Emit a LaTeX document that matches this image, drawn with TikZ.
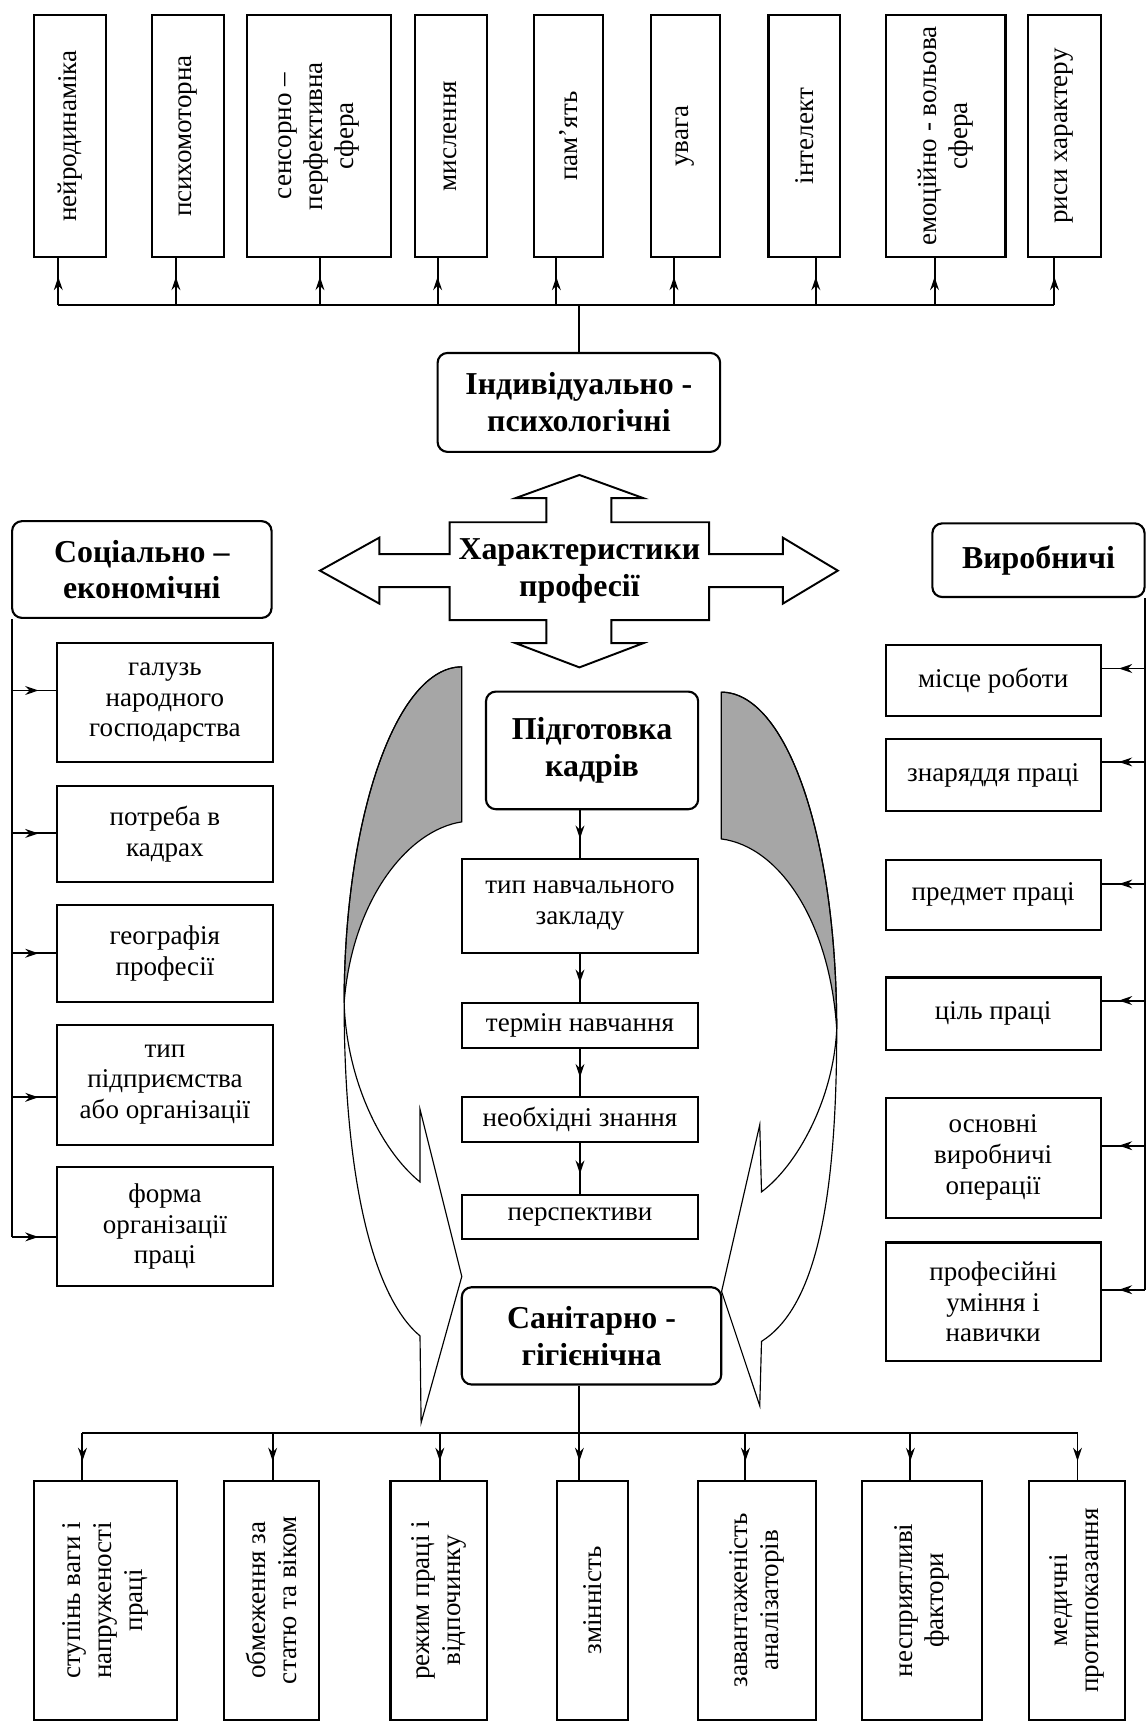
\documentclass[tikz,border=0pt]{standalone}
\usepackage{fontspec}
\setmainfont{Liberation Serif}
\usetikzlibrary{arrows.meta, decorations.markings}
\newcommand{\boxfont}{\fontsize{14}{16}\selectfont}
\newcommand{\headfont}{\fontsize{16.5}{19}\selectfont\bfseries}

\begin{document}
\begin{tikzpicture}[x=0.2mm, y=-0.2mm,
    itembox/.style={draw, line width=1.1pt, align=center, font=\boxfont, inner sep=2pt},
    vbox/.style={itembox, rotate=90},
    headbox/.style={itembox, rounded corners=1.8mm, font=\headfont},
    wire/.style={line width=1pt},
    feed/.style={wire, postaction={decorate, decoration={markings,
        mark=at position 0.6 with {\arrow{Stealth[length=2.4mm, width=1.6mm]}}}}},
    band/.style={line width=0.6pt}]
    \useasboundingbox (0,0) rectangle (1043,1568);

    % Curved ribbon arrows
    \filldraw[band, fill=black!35] (420,606.5) -- (420,747.5) .. controls (370,755) and (320,820) .. (313,912)
        .. controls (313,745) and (360,606.5) .. (420,606.5) -- cycle;
    \draw[band] (420,606.5) .. controls (360,606.5) and (313,745) .. (313,912)
        .. controls (313,1075) and (340,1180) .. (382,1215) -- (383,1294) -- (420,1161) -- (382,1009) -- (382,1075)
        .. controls (345,1045) and (315,980) .. (313,912);
    \filldraw[band, fill=black!35] (656,629.5) -- (656,763) .. controls (710,770) and (755,840) .. (761,936)
        .. controls (761,760) and (715,629.5) .. (656,629.5) -- cycle;
    \draw[band] (656,629.5) .. controls (715,629.5) and (761,760) .. (761,936)
        .. controls (761,1100) and (740,1190) .. (692.6,1220) -- (691,1278.6) -- (656.3,1174.6) -- (691,1023) -- (692.6,1084)
        .. controls (725,1060) and (758,1000) .. (761,936);

    % Four-way arrow
    \draw[line width=1pt] (409,475) -- (497,475) -- (497,453) -- (469,453) -- (527,432) -- (585,453) -- (556,453) -- (556,475)
        -- (645,475) -- (645,504) -- (712,504) -- (712,489) -- (762,519) -- (712,549) -- (712,534) -- (645,534)
        -- (645,564) -- (556,564) -- (556,585) -- (585,585) -- (527,607) -- (469,585) -- (497,585) -- (497,564)
        -- (409,564) -- (409,534) -- (345,534) -- (345,549) -- (291,519) -- (345,489) -- (345,504) -- (409,504) -- cycle;
    \node[font=\headfont, align=center] (prof) at (527,519) {Характеристики\\професії};

    % Individual-psychological
    \node[headbox, minimum width=51.4mm, minimum height=18mm] (ind) at (526.5,366) {Індивідуально -\\психологічні};
    \node[vbox, minimum width=44.1mm, minimum height=13.2mm] (t1) at (63.7,123.8) {нейродинаміка};
    \node[vbox, minimum width=44.1mm, minimum height=13.2mm] (t2) at (171,123.8) {психомоторна};
    \node[vbox, minimum width=44.1mm, minimum height=26.2mm] (t3) at (290.5,123.8) {сенсорно –\\перфективна\\сфера};
    \node[vbox, minimum width=44.1mm, minimum height=13.1mm] (t4) at (409.9,123.8) {мислення};
    \node[vbox, minimum width=44.1mm, minimum height=12.6mm] (t5) at (517,123.8) {пам'ять};
    \node[vbox, minimum width=44.1mm, minimum height=12.6mm] (t6) at (623.5,123.8) {увага};
    \node[vbox, minimum width=44.1mm, minimum height=13mm] (t7) at (731.5,123.8) {інтелект};
    \node[vbox, minimum width=44.1mm, minimum height=21.8mm] (t8) at (860,123.8) {емоційно - вольова\\сфера};
    \node[vbox, minimum width=44.1mm, minimum height=13.2mm] (t9) at (968,123.8) {риси характеру};
    \foreach \i/\x in {1/53,2/160,3/291,4/398,5/506,6/613,7/742,8/850,9/959}
        \coordinate (u\i) at (\x,277);
    \draw[wire] (u1) -- (u9);
    \draw[wire] (ind.north) -- (ind.north |- u1);
    \foreach \i in {1,...,9}
        \draw[feed] (u\i) -- (u\i |- t\i.west);

    % Socio-economic
    \node[headbox, minimum width=47.2mm, minimum height=17.6mm] (soc) at (129,518) {Соціально –\\економічні};
    \node[itembox, minimum width=39.2mm, minimum height=21.6mm] (l1) at (150,639) {галузь\\народного\\господарства};
    \node[itembox, minimum width=39.2mm, minimum height=17.4mm] (l2) at (150,758.5) {потреба в\\кадрах};
    \node[itembox, minimum width=39.2mm, minimum height=17.6mm] (l3) at (150,867) {географія\\професії};
    \node[itembox, minimum width=39.2mm, minimum height=21.8mm] (l4) at (150,986.5) {тип\\підприємства\\або організації};
    \node[itembox, minimum width=39.2mm, minimum height=21.8mm] (l5) at (150,1115.5) {форма\\організації\\праці};
    \foreach \i/\y in {1/628,2/758,3/867,4/998,5/1125}
        \coordinate (lb\i) at (11,\y);
    \draw[wire] (soc.south -| lb1) -- (lb5);
    \foreach \i in {1,...,5}
        \draw[feed] (lb\i) -- (lb\i -| l\i.west);

    % Production
    \node[headbox, minimum width=38.6mm, minimum height=13.4mm] (pro) at (944.5,509.5) {Виробничі};
    \node[itembox, minimum width=39.1mm, minimum height=13mm] (r1) at (903.3,619) {місце роботи};
    \node[itembox, minimum width=39.1mm, minimum height=13.1mm] (r2) at (903.3,705) {знаряддя праці};
    \node[itembox, minimum width=39.1mm, minimum height=12.8mm] (r3) at (903.3,813.8) {предмет праці};
    \node[itembox, minimum width=39.1mm, minimum height=13.2mm] (r4) at (903.3,922) {ціль праці};
    \node[itembox, minimum width=39.1mm, minimum height=21.8mm] (r5) at (903.3,1053) {основні\\виробничі\\операції};
    \node[itembox, minimum width=39.1mm, minimum height=21.6mm] (r6) at (903.3,1184) {професійні\\уміння і\\навички};
    \foreach \i/\y in {1/608,2/693,3/804,4/910,5/1042,6/1173}
        \coordinate (rb\i) at (1041,\y);
    \draw[wire] (pro.south -| rb1) -- (rb6);
    \foreach \i in {1,...,6}
        \draw[feed] (rb\i) -- (rb\i -| r\i.east);

    % Training
    \node[headbox, minimum width=38.6mm, minimum height=21.4mm] (prep) at (538.5,682.5) {Підготовка\\кадрів};
    \node[itembox, minimum width=43mm, minimum height=17.2mm] (c1) at (527.5,824) {тип навчального\\закладу};
    \node[itembox, minimum width=43mm, minimum height=8.2mm] (c2) at (527.5,932.5) {термін навчання};
    \node[itembox, minimum width=43mm, minimum height=8.2mm] (c3) at (527.5,1018.5) {необхідні знання};
    \node[itembox, minimum width=43mm, minimum height=8mm] (c4) at (527.5,1107) {перспективи};
    \draw[feed] (c1 |- prep.south) -- (c1);
    \draw[feed] (c1) -- (c2);
    \draw[feed] (c2) -- (c3);
    \draw[feed] (c3) -- (c4);

    % Sanitary-hygienic
    \node[headbox, minimum width=47.2mm, minimum height=17.7mm] (san) at (538,1215) {Санітарно -\\гігієнічна};
    \node[vbox, minimum width=43.4mm, minimum height=25.9mm] (b1) at (96,1455.5) {ступінь ваги і\\напруженості\\праці};
    \node[vbox, minimum width=43.4mm, minimum height=17.4mm] (b2) at (247,1455.5) {обмеження за\\статю та віком};
    \node[vbox, minimum width=43.4mm, minimum height=17.5mm] (b3) at (398.9,1455.5) {режим праці і\\відпочинку};
    \node[vbox, minimum width=43.4mm, minimum height=12.9mm] (b4) at (538.7,1455.5) {змінність};
    \node[vbox, minimum width=43.4mm, minimum height=21.6mm] (b5) at (688.5,1455.5) {завантаженість\\аналізаторів};
    \node[vbox, minimum width=43.4mm, minimum height=21.8mm] (b6) at (838.5,1455.5) {несприятливі\\фактори};
    \node[vbox, minimum width=43.4mm, minimum height=17.4mm] (b7) at (979.3,1455.5) {медичні\\протипоказання};
    \foreach \i/\x in {1/75,2/248,3/400,4/527,5/678,6/828,7/980}
        \coordinate (d\i) at (\x,1303);
    \draw[wire] (d1) -- (d7);
    \draw[wire] (d4 |- san.south) -- (d4);
    \foreach \i in {1,...,7}
        \draw[feed] (d\i) -- (d\i |- b\i.east);

\end{tikzpicture}
\end{document}
